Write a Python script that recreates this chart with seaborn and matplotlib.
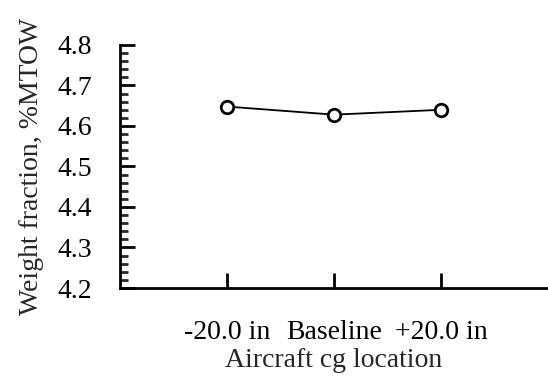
import matplotlib
matplotlib.use("Agg")
import matplotlib.pyplot as plt
import seaborn as sns
import pandas as pd
from matplotlib.ticker import MultipleLocator

categories = ["-20.0 in", "Baseline", "+20.0 in"]
positions = [1, 2, 3]
weight_fraction = [4.648, 4.628, 4.640]

sns.set_style("ticks")
plt.rcParams["font.family"] = ["Liberation Serif", "DejaVu Serif"]

df = pd.DataFrame({"pos": positions, "wf": weight_fraction, "cat": categories})

fig = plt.figure(figsize=(5.48, 3.76), dpi=100)
ax = fig.add_axes([120 / 548, 1 - 288 / 376, 1 - 120 / 548, (288 - 45) / 376])

sns.lineplot(data=df, x="pos", y="wf", ax=ax, color="black", linewidth=1.3,
             marker="o", markersize=9, markerfacecolor="white",
             markeredgecolor="black", markeredgewidth=2)

ax.set_xlim(0, 4)
ax.set_ylim(4.2, 4.8)
ax.set_xticks(positions)
ax.set_xticklabels(categories)
ax.yaxis.set_major_locator(MultipleLocator(0.1))
ax.yaxis.set_minor_locator(MultipleLocator(0.02))
ax.set_yticklabels([f"{v:.1f}" for v in ax.get_yticks()])

for s in ["top", "right"]:
    ax.spines[s].set_visible(False)
for s in ["left", "bottom"]:
    ax.spines[s].set_linewidth(2)
    ax.spines[s].set_color("black")

ax.tick_params(axis="x", which="major", direction="in", length=11, width=2,
               pad=23, labelsize=20, colors="black")
ax.tick_params(axis="y", which="major", direction="in", length=11, width=2,
               pad=20, labelsize=20, colors="black")
ax.tick_params(axis="y", which="minor", direction="in", length=6, width=2)

ax.set_xlabel("Aircraft cg location", fontsize=20, labelpad=2)
ax.set_ylabel("Weight fraction, %MTOW", fontsize=20, labelpad=10)
ax.grid(False)

fig.savefig("out.png", dpi=100)
